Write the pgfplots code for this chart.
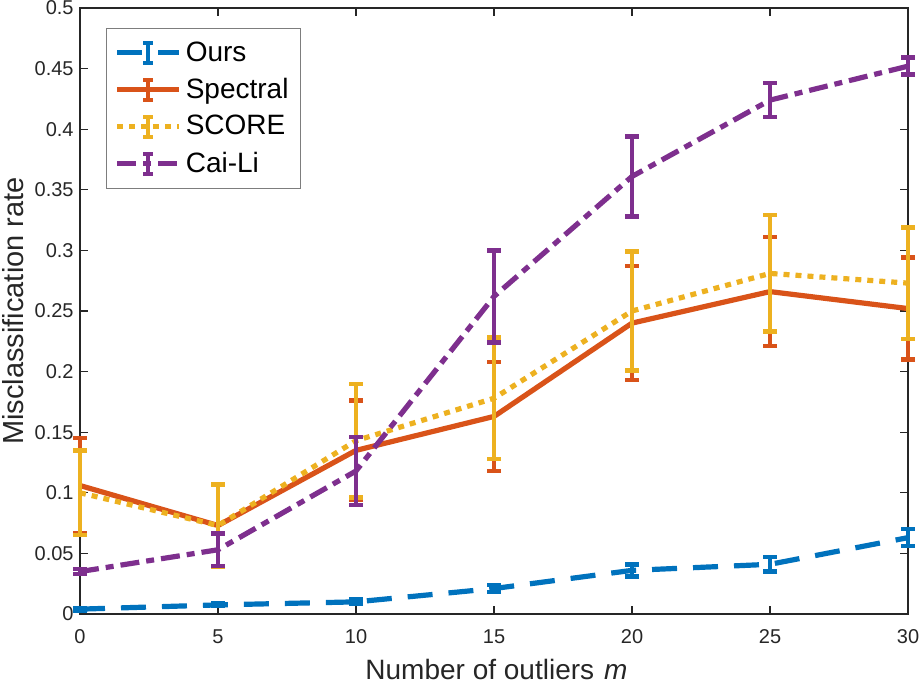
\documentclass[border=0pt]{standalone}
\usepackage{pgfplots}
\pgfplotsset{compat=1.18}
\usepackage{fontspec}
\setmainfont{Liberation Sans}
\definecolor{c1}{rgb}{0,0.447,0.741}
\definecolor{c2}{rgb}{0.85,0.325,0.098}
\definecolor{c3}{rgb}{0.929,0.694,0.125}
\definecolor{c4}{rgb}{0.494,0.184,0.556}
\definecolor{axc}{HTML}{262626}
\pgfplotsset{
  ebleg/.style={legend image code/.code={
    \draw[##1] (0pt,0pt) -- (31pt,0pt);
    \draw[##1,solid,line width=2pt] (15.5pt,-5pt) -- (15.5pt,5pt);
    \draw[##1,solid,line width=2pt] (13pt,-5pt) -- (18pt,-5pt);
    \draw[##1,solid,line width=2pt] (13pt,5pt) -- (18pt,5pt);
  }},
  eb/.style={error bars/.cd, y dir=both, y explicit,
    error bar style={solid,line width=2pt},
    error mark options={solid,line width=2.2pt,mark size=3.5pt,rotate=90}},
}
\pgfplotstableread{
x y e
0 0.004 0.001
5 0.0075 0.001
10 0.010 0.002
15 0.021 0.003
20 0.036 0.005
25 0.041 0.006
30 0.063 0.007
}\ours
\pgfplotstableread{
x y e
0 0.106 0.039
5 0.073 0.034
10 0.135 0.041
15 0.163 0.045
20 0.240 0.047
25 0.266 0.045
30 0.252 0.042
}\spectral
\pgfplotstableread{
x y e
0 0.100 0.035
5 0.073 0.034
10 0.143 0.047
15 0.178 0.050
20 0.250 0.049
25 0.281 0.048
30 0.273 0.046
}\score
\pgfplotstableread{
x y e
0 0.035 0.002
5 0.053 0.0135
10 0.118 0.028
15 0.262 0.038
20 0.361 0.033
25 0.424 0.014
30 0.452 0.007
}\caili
\begin{document}
\begin{tikzpicture}
\begin{axis}[
  name=ax,
  scale only axis, width=414pt, height=303pt,
  xmin=0, xmax=30, ymin=0, ymax=0.5,
  xtick={0,5,...,30},
  ytick={0,0.05,0.1,0.15,0.2,0.25,0.3,0.35,0.4,0.45,0.5},
  yticklabels={0,0.05,0.1,0.15,0.2,0.25,0.3,0.35,0.4,0.45,0.5},
  tick align=inside, major tick length=4pt,
  axis line style={axc, line width=0.6pt},
  tick style={axc, line width=0.6pt},
  every tick label/.append style={font=\fontsize{10}{12}\selectfont, text=axc},
  xticklabel style={anchor=base, yshift=-15pt},
  yticklabel style={inner xsep=3pt},
  /pgf/number format/assume math mode=true,
  xlabel={Number of outliers\hspace{5pt}\textit{m}},
  ylabel={Misclassification rate},
  xlabel style={font=\fontsize{14}{16}\selectfont, text=axc,
    at={(axis description cs:0.503,-0.1089)}, anchor=base},
  ylabel style={font=\fontsize{14.5}{16}\selectfont, text=axc,
    at={(axis description cs:-0.0688,0.5)}, anchor=base},
  legend style={at={(0.0314,0.967)}, anchor=north west, draw=axc!60, line width=0.6pt,
    font=\fontsize{14}{16}\selectfont, row sep=3pt, inner xsep=4pt, inner ysep=4.5pt,
    cells={anchor=west}},
  legend cell align=left,
  clip=false,
]
\addplot[c1, line width=2.6pt, dash pattern=on 12.5pt off 8pt, ebleg, eb] table[x=x,y=y,y error=e]{\ours};
\addlegendentry{Ours}
\addplot[c2, line width=2.6pt, solid, ebleg, eb] table[x=x,y=y,y error=e]{\spectral};
\addlegendentry{Spectral}
\addplot[c3, line width=2.6pt, dash pattern=on 3pt off 3pt, ebleg, eb] table[x=x,y=y,y error=e]{\score};
\addlegendentry{SCORE}
\addplot[c4, line width=2.6pt, dash pattern=on 9.5pt off 3.5pt on 4pt off 3.5pt, ebleg, eb] table[x=x,y=y,y error=e]{\caili};
\addlegendentry{Cai-Li}
\end{axis}
\pgfresetboundingbox
\path[use as bounding box] ([xshift=-40pt,yshift=-36pt]ax.south west) rectangle ([xshift=7.5pt,yshift=4pt]ax.north east);
\end{tikzpicture}
\end{document}
